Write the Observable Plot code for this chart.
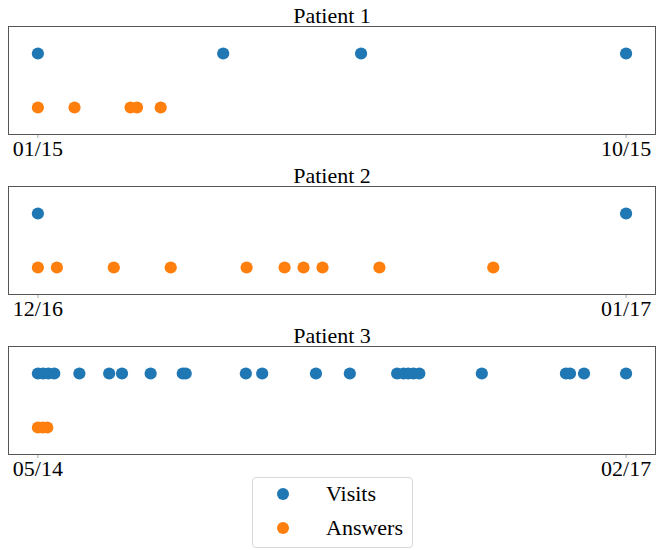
<!DOCTYPE html>
<html>
<head>
<meta charset="utf-8">
<script src="https://cdn.jsdelivr.net/npm/d3@7"></script>
<script src="https://cdn.jsdelivr.net/npm/@observablehq/plot@0.6"></script>
<style>
  body { margin: 0; background: white; font-family: "Liberation Serif", "Times New Roman", serif; }
  #wrap { position: relative; width: 664px; height: 550px; }
  #wrap svg { display: block; }
  #legend { position: absolute; left: 252px; top: 477px; width: 161px; height: 71px;
            border: 1px solid #d8d8d8; border-radius: 4px; background: white; box-sizing: border-box; }
  .li { position: absolute; left: 0; font-size: 22px; color: black; }
  .sw { position: absolute; width: 12px; height: 12px; border-radius: 50%; }
  .lt { position: absolute; left: 73px; white-space: nowrap; }
</style>
</head>
<body>
<div id="wrap"></div>
<script>
// Patient titles and start dates
const titles = ["Patient 1", "Patient 2", "Patient 3"];
const startDates = ["2015-01-12", "2016-12-05", "2014-05-15"];
// Day offsets (from each patient's start date)
const visits1 = [0, 86, 150, 273];
const answers1 = [0, 17, 43, 46, 57];
const visits2 = [0, 31];
const answers2 = [0, 1, 4, 7, 11, 13, 14, 15, 18, 24];
const visits3 = [0, 9, 18, 28, 71, 122, 144, 193, 248, 253, 356, 384, 476, 534, 615, 626, 634, 643, 653, 760, 904, 911, 935, 1007];
const answers3 = [0, 8, 16];
const seriesNames = ["Visits", "Answers"];
const seriesColors = ["#1f77b4", "#ff7f0e"];

const visitsAll = [visits1, visits2, visits3];
const answersAll = [answers1, answers2, answers3];

const wrap = document.getElementById("wrap");

titles.forEach((title, i) => {
  const s = new Date(startDates[i] + "T00:00:00Z");
  const rows = [
    ...visitsAll[i].map(d => ({date: d3.utcDay.offset(s, d), kind: seriesNames[0], row: 1})),
    ...answersAll[i].map(d => ({date: d3.utcDay.offset(s, d), kind: seriesNames[1], row: 0}))
  ];
  const [t0, t1] = d3.extent(rows, d => d.date);
  const pad = (t1 - t0) * 0.05;
  const chart = Plot.plot({
    width: 664,
    height: 160,
    marginLeft: 8,
    marginRight: 9,
    marginTop: 26,
    marginBottom: 26,
    style: {fontFamily: "'Liberation Serif', 'Times New Roman', serif", fontSize: "22px", color: "black", background: "white"},
    x: {type: "utc", domain: [new Date(+t0 - pad), new Date(+t1 + pad)], label: null},
    y: {domain: [-0.5, 1.5], axis: null},
    color: {domain: seriesNames, range: seriesColors},
    marks: [
      Plot.axisX({ticks: [t0, t1], tickFormat: d3.utcFormat("%m/%y"), tickSize: 4, tickPadding: 2,
                  stroke: "#aaa", fill: "black", fontSize: 22, label: null}),
      Plot.frame({stroke: "#555", strokeWidth: 1}),
      Plot.dot(rows, {x: "date", y: "row", fill: "kind", r: 6.1, stroke: "none"}),
      Plot.text([title], {text: d => d, frameAnchor: "top", lineAnchor: "bottom", dy: -4, fontSize: 22, fill: "black"})
    ]
  });
  wrap.appendChild(chart);
});

// Legend
const legend = document.createElement("div");
legend.id = "legend";
seriesNames.forEach((name, i) => {
  const sw = document.createElement("div");
  sw.className = "sw";
  sw.style.background = seriesColors[i];
  sw.style.left = (31 - 6 - 1) + "px";
  sw.style.top = (17 + i * 34 - 6 - 1) + "px";
  legend.appendChild(sw);
  const t = document.createElement("div");
  t.className = "li lt";
  t.textContent = name;
  t.style.top = (3 + i * 34) + "px";
  t.style.lineHeight = "26px";
  legend.appendChild(t);
});
wrap.appendChild(legend);
</script>
</body>
</html>
